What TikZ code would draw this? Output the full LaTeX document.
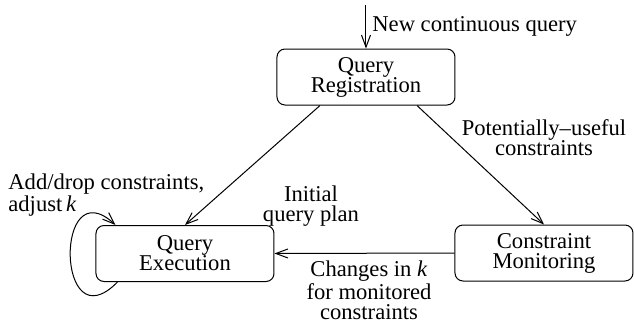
\documentclass[tikz,border=0pt]{standalone}
\usepackage{fontspec}
\setmainfont{Liberation Serif}
\usetikzlibrary{arrows.meta}

\tikzset{
  stagebox/.style={draw, line width=0.5pt, rounded corners=4pt, minimum width=89pt,
    minimum height=28pt, align=center, inner sep=0pt},
  lbl/.style={align=center, inner sep=0pt, font=\fontsize{11.3}{10}\selectfont},
  flow/.style={line width=0.5pt, -{Straight Barb[length=6pt,width=4.5pt]}}
}

\begin{document}
\begin{tikzpicture}[x=0.5pt, y=-0.5pt, font=\fontsize{11.3}{10}\selectfont]
  \useasboundingbox (0,0) rectangle (634,323);

  % the three stages
  \node[stagebox] (reg) at (366,77) {Query\\Registration};
  \node[stagebox] (exec) at (185,253.5) {Query\\Execution};
  \node[stagebox] (mon) at (544,253) {Constraint\\Monitoring};

  % new query comes in from the top
  \coordinate (newq) at (366,5);
  \draw[flow] (newq) -- (reg.north);
  \node[lbl, anchor=west] (newqlbl) at (372,26) {New continuous query};

  % connectors between stages
  \draw[flow] ([xshift=-23pt]reg.south) -- (exec.north);
  \draw[flow] ([xshift=25.5pt]reg.south) -- (mon.north);
  \draw[flow] (mon.west) -- (exec.east);

  % self loop on the execution stage
  \draw[flow] ([xshift=11pt]exec.south west) .. controls (56,345) and (54,168) .. ([xshift=10pt]exec.north west);

  % labels
  \node[lbl] (planlbl) at (311,206) {Initial\\query plan};
  \node[lbl] (usefullbl) at (544,138) {Potentially--useful\\constraints};
  \node[lbl] (changelbl) at (369,290) {Changes in \textit{k}\\for monitored\\constraints};
  \node[lbl, align=left, anchor=west] (looplbl) at (8,195) {Add/drop constraints,\\adjust\,\textit{k}};
\end{tikzpicture}
\end{document}
